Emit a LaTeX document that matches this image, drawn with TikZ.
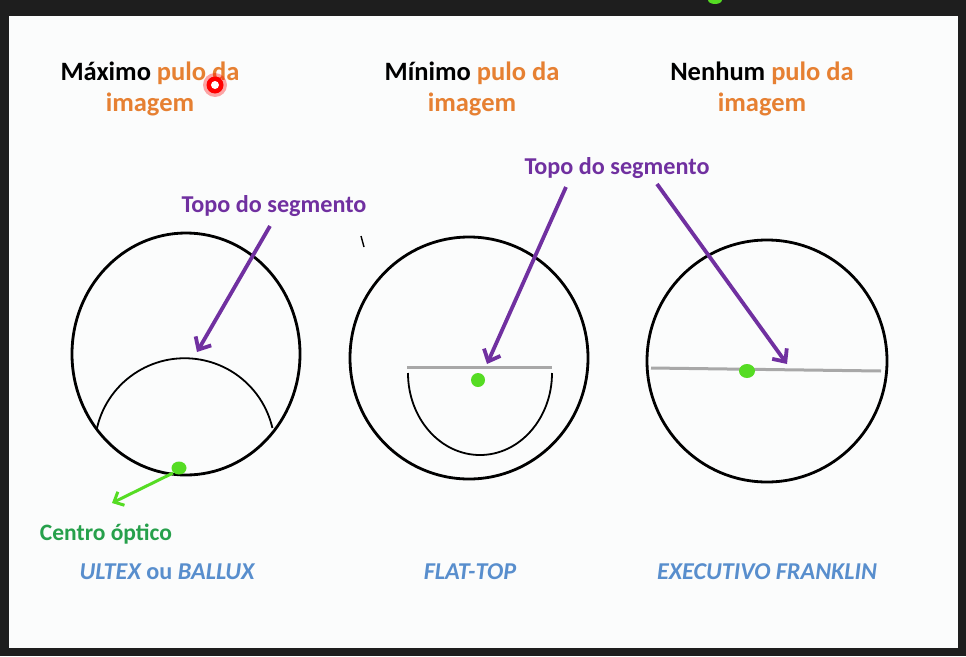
\documentclass[tikz,border=0pt]{standalone}
\usepackage{fontspec}
\setmainfont{Carlito}
\usetikzlibrary{arrows.meta}
\definecolor{bgdark}{RGB}{30,30,30}
\definecolor{panel}{RGB}{251,252,252}
\definecolor{orng}{RGB}{230,128,50}
\definecolor{purp}{RGB}{112,48,160}
\definecolor{grntxt}{RGB}{38,160,75}
\definecolor{dotgrn}{RGB}{85,220,35}
\definecolor{lblue}{RGB}{88,142,205}
\definecolor{linegray}{RGB}{168,168,168}
\begin{document}
\begin{tikzpicture}[x=1pt,y=-1pt,
  title/.style={font=\fontsize{26.5}{31}\selectfont\bfseries, align=center, text=black},
  plabel/.style={font=\fontsize{24.2}{28}\selectfont\bfseries, text=purp},
  blabel/.style={font=\fontsize{24.2}{28}\selectfont\bfseries\itshape, text=lblue},
  lens/.style={draw=black, line width=2.8pt},
  seg/.style={draw=black, line width=1.8pt},
  topline/.style={draw=linegray, line width=3pt},
  gdot/.style={fill=dotgrn},
  parrow/.style={draw=purp, line width=3.8pt, -{Straight Barb[length=10pt,width=18pt]}},
  garrow/.style={draw=dotgrn, line width=3pt, -{Straight Barb[length=8pt,width=15pt]}}]
\useasboundingbox (0,0) rectangle (966,656);
\fill[bgdark] (0,0) rectangle (966,656);
\fill[panel] (9,16) rectangle (958,648);
\fill[dotgrn] (715,0) ellipse [x radius=7, y radius=4];

% titles
\node[title] (t1) at (150,89) {Máximo \textcolor{orng}{pulo da}\\\textcolor{orng}{imagem}};
\node[title] (t2) at (472,89) {Mínimo \textcolor{orng}{pulo da}\\\textcolor{orng}{imagem}};
\node[title] (t3) at (762,89) {Nenhum \textcolor{orng}{pulo da}\\\textcolor{orng}{imagem}};

% pointer highlight
\fill[red, opacity=0.35] (215,85) circle (12);
\fill[red] (215,85) circle (8.5);
\fill[white] (215,85) circle (4);

% lenses
\draw[lens] (186,354) ellipse [x radius=114, y radius=121];
\draw[lens] (469,358) ellipse [x radius=119, y radius=121];
\draw[lens] (767,361) ellipse [x radius=120, y radius=121];

% segments
\draw[seg] (97,428) arc [start angle=193, end angle=347, radius=90];
\draw[topline] (407,367) -- (552,367);
\draw[seg] (408,373) arc [start angle=180, end angle=0, x radius=72, y radius=82];
\draw[topline] (651,368) -- (881,371);

% optical centres
\fill[gdot] (179,468) ellipse [x radius=7.5, y radius=6.5];
\fill[gdot] (478,380) ellipse [x radius=7, y radius=7];
\fill[gdot] (747,371) ellipse [x radius=8, y radius=7];

% stray tick
\draw[black, line width=1.4pt] (361,236) -- (364,247);

% labels
\node[plabel] (p1) at (274,206) {Topo do segmento};
\node[plabel] (p2) at (617,168) {Topo do segmento};
\node[font=\fontsize{23.5}{27}\selectfont\bfseries, text=grntxt] (co) at (106,534) {Centro óptico};
\node[blabel] (b1) at (167,572) {ULTEX {\upshape ou} BALLUX};
\node[blabel] (b2) at (470,572) {FLAT-TOP};
\node[blabel] (b3) at (767,572) {EXECUTIVO FRANKLIN};

% arrow coordinates
\coordinate (a1s) at (270,226);
\coordinate (a1e) at (197,352);
\coordinate (a2s) at (566,187);
\coordinate (a2e) at (487,364);
\coordinate (a3s) at (657,184);
\coordinate (a3e) at (787,364);
\coordinate (gs) at (173,473);
\coordinate (ge) at (112,503);

\draw[parrow] (a1s) -- (a1e);
\draw[parrow] (a2s) -- (a2e);
\draw[parrow] (a3s) -- (a3e);
\draw[garrow] (gs) -- (ge);
\end{tikzpicture}
\end{document}
